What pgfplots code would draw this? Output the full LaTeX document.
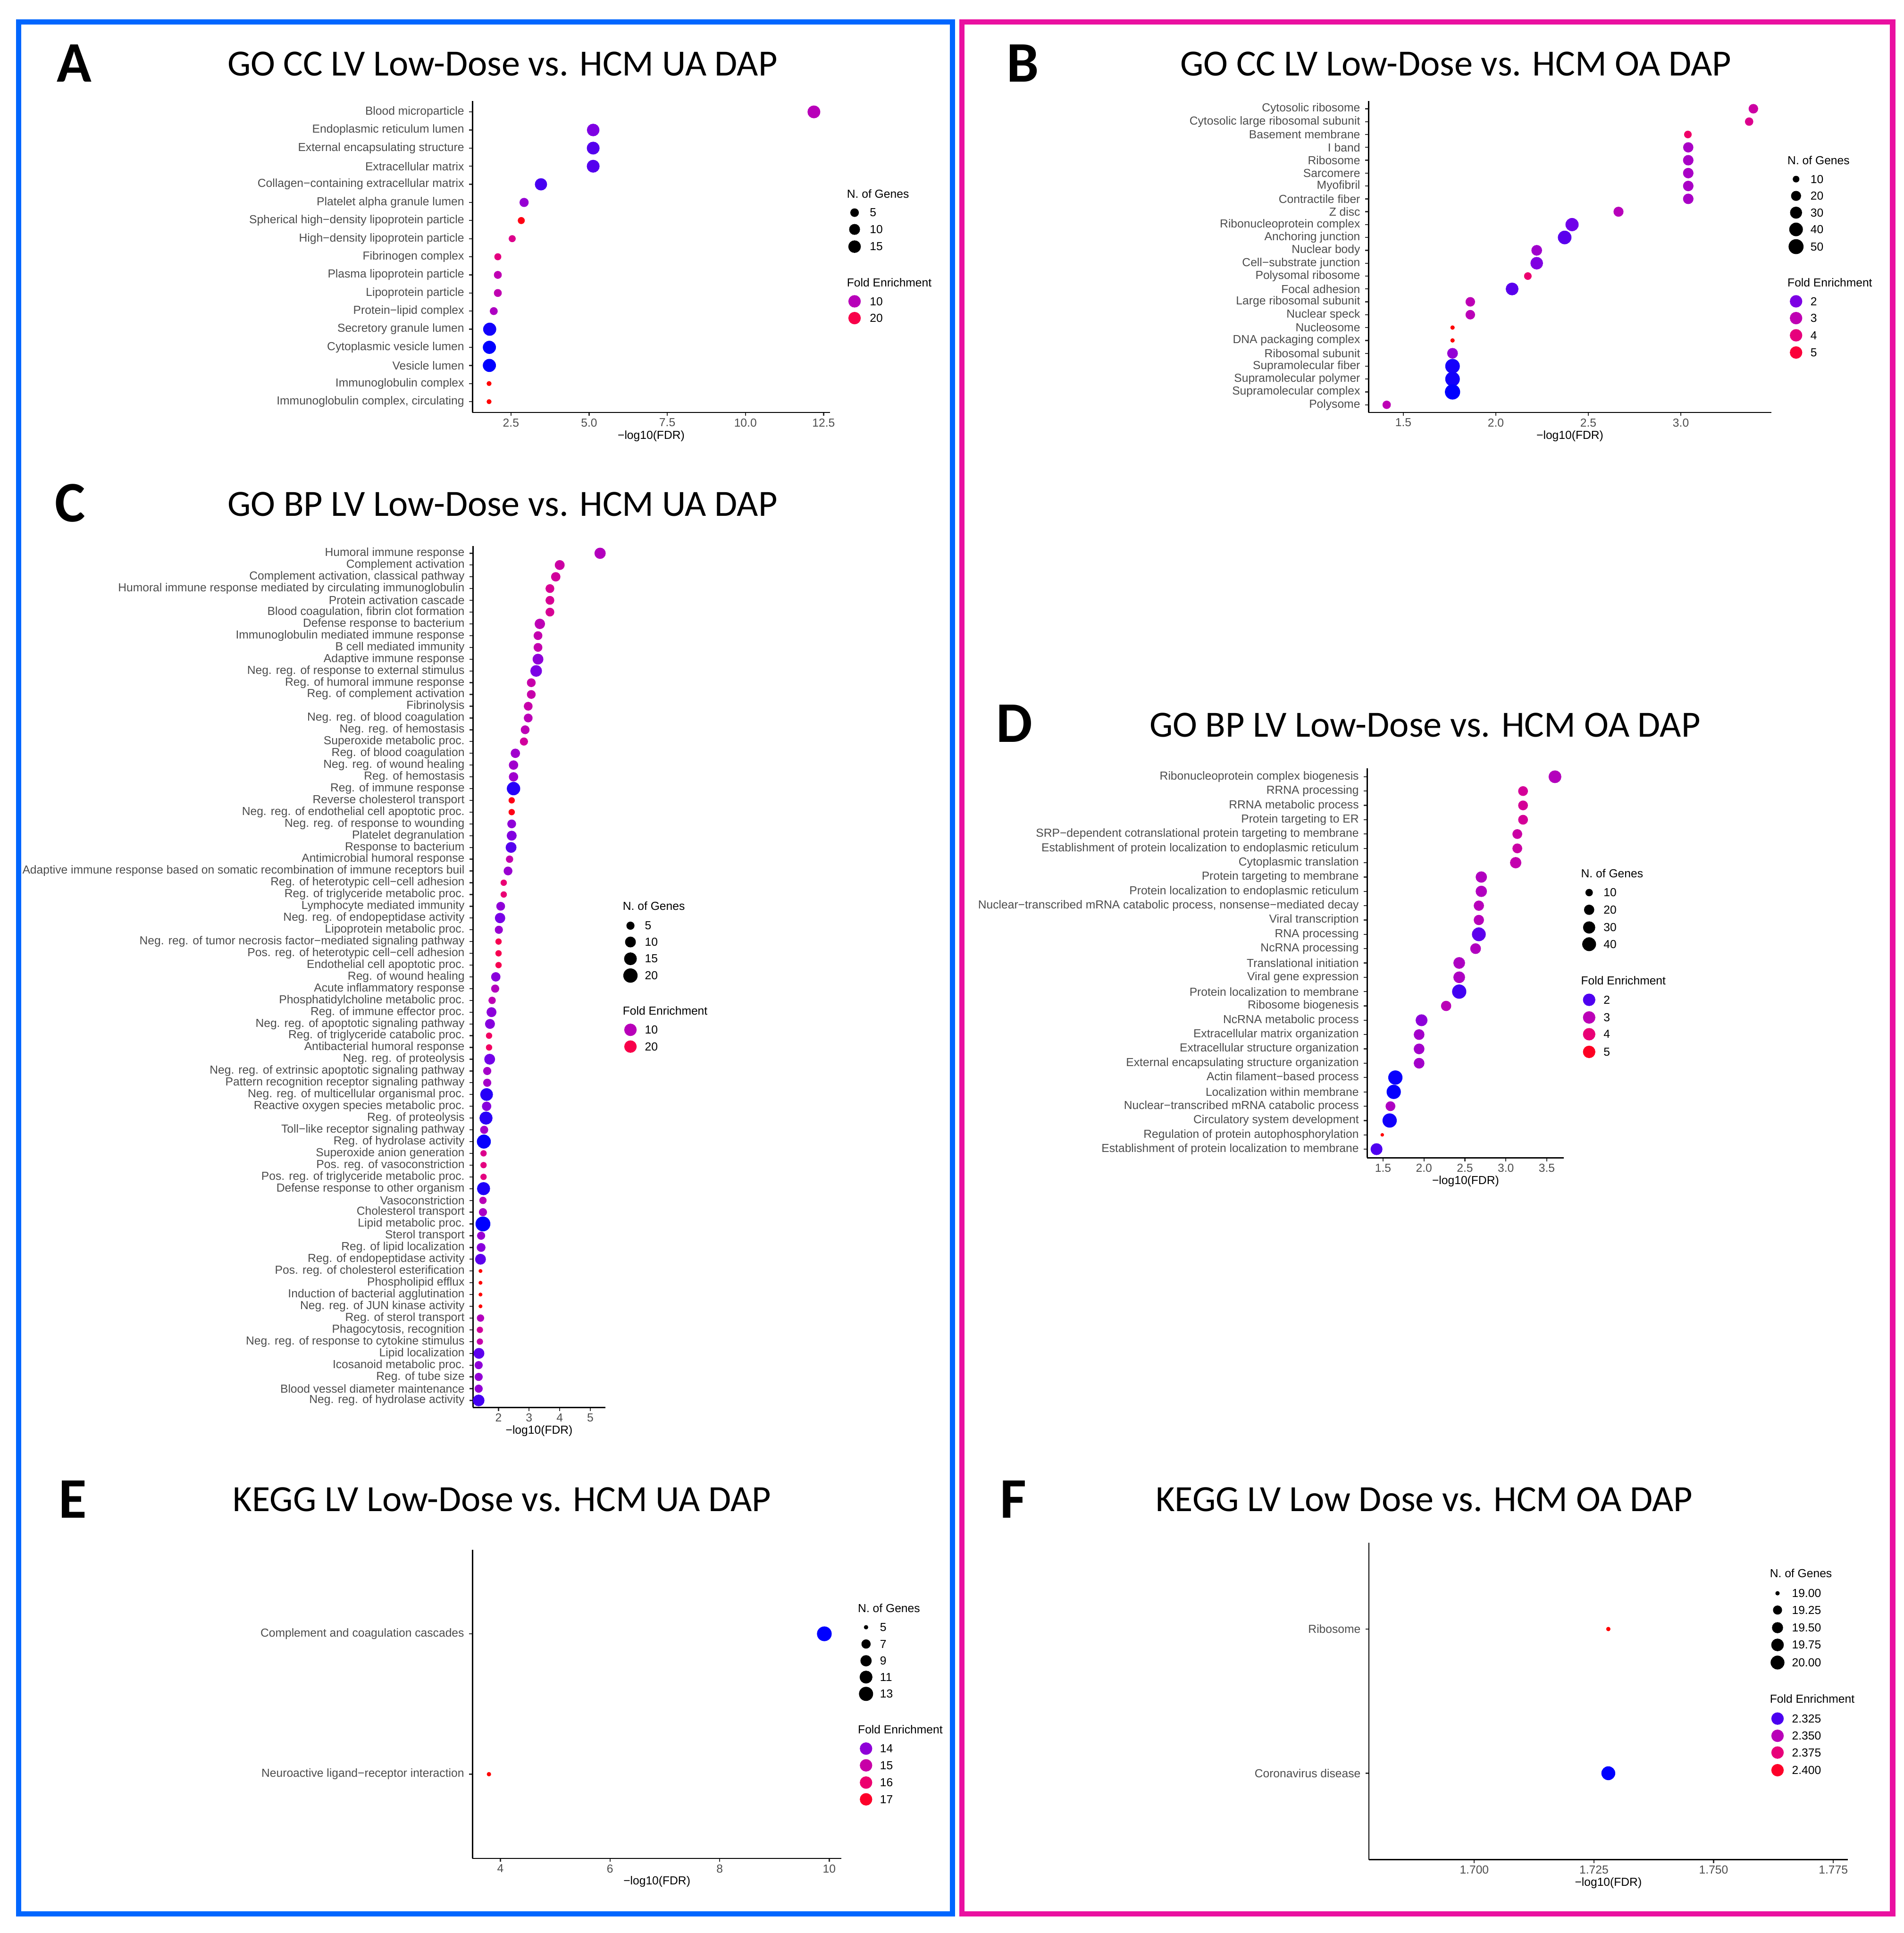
\documentclass[border=0pt]{standalone}
\usepackage{pgfplots}
\pgfplotsset{compat=1.18}
\usepackage{fontspec}
\setmainfont{Liberation Sans}
\newfontfamily\titlefont{Carlito}

\definecolor{grey30}{RGB}{77,77,77}
\definecolor{grey20}{RGB}{51,51,51}
\definecolor{frameblue}{RGB}{0,102,255}
\definecolor{framepink}{RGB}{234,16,160}

\newcommand{\ggfont}{\fontsize{7.5pt}{9pt}\selectfont}
\newcommand{\ttl}[1]{{\titlefont\fontsize{23.8pt}{28pt}\selectfont #1}}
\newcommand{\lett}[1]{{\titlefont\bfseries\fontsize{37pt}{44pt}\selectfont #1}}

\pgfplotsset{
  colormap={gg}{rgb255=(0,0,255) rgb255=(118,0,232) rgb255=(160,0,205) rgb255=(190,0,180)
    rgb255=(212,0,152) rgb255=(232,0,122) rgb255=(245,0,90) rgb255=(252,0,52) rgb255=(255,0,0)},
  dotplot/.style={
    scale only axis, anchor=south west, clip=false, enlargelimits=false,
    axis lines=left, axis line style={-, line width=0.8pt, black},
    tick align=outside, major tick length=2.2pt,
    tick style={line width=0.7pt, grey20},
    ticklabel style={font=\ggfont, text=grey30, inner sep=0pt},
    xticklabel shift=1.5pt, yticklabel shift=3pt,
    xlabel={−log10(FDR)},
    x label style={font=\ggfont, at={(axis description cs:0.5,0)}, anchor=center, yshift=-0.53cm},
    colormap name=gg,
  },
  bubbles/.style n args={3}{
    scatter, only marks, mark=*,
    point meta=\thisrow{fe},
    visualization depends on={\thisrow{n} \as \ngenes},
    scatter/use mapped color={draw=mapped color, fill=mapped color},
    scatter/@pre marker code/.append style={/tikz/mark size={#2pt+#3pt*sqrt(\ngenes-#1)}},
  },
  lk/.style={only marks, mark=*, black},
  fk/.style={scatter, only marks, mark=*, mark size=3.8pt, point meta=explicit,
    scatter/use mapped color={draw=mapped color, fill=mapped color}},
}
\tikzset{lt/.style={anchor=west, inner sep=0pt, font=\ggfont}}

\begin{document}
\begin{tikzpicture}
\useasboundingbox (0,0) rectangle (43.15cm,43.81cm);
\fill[white] (0,0) rectangle (43.15cm,43.81cm);
\draw[frameblue, line width=0.12cm] (0.42cm,43.31cm) rectangle (21.59cm,0.43cm);
\draw[framepink, line width=0.12cm] (21.80cm,43.31cm) rectangle (42.90cm,0.43cm);

% A: GO CC UA
\begin{axis}[dotplot, at={(10.71cm,34.46cm)}, width=8.10cm, height=7.06cm,
  xmin=1.27, xmax=12.70, ymin=-17.6, ymax=-0.4,
  xtick={2.5,5,7.5,10,12.5}, xticklabels={2.5,5.0,7.5,10.0,12.5},
  ytick={-1,-2,...,-17},
  yticklabels={Blood microparticle, Endoplasmic reticulum lumen, External encapsulating structure,
    Extracellular matrix, Collagen−containing extracellular matrix, Platelet alpha granule lumen,
    Spherical high−density lipoprotein particle, High−density lipoprotein particle, Fibrinogen complex,
    Plasma lipoprotein particle, Lipoprotein particle, Protein−lipid complex, Secretory granule lumen,
    Cytoplasmic vesicle lumen, Vesicle lumen, Immunoglobulin complex, {Immunoglobulin complex, circulating}},
  point meta min=2.2, point meta max=24.4]
\addplot[bubbles={2}{1.38}{0.683}] table[x=x, y expr=-\thisrow{y}] {
x y n fe
12.19 1 16 10.0
5.13 2 15 5.5
5.13 3 16 4.2
5.13 4 16 4.2
3.46 5 14 3.9
2.92 6 6 7.1
2.83 7 3 23.4
2.54 8 3 14.4
2.08 9 3 15.5
2.08 10 4 10.6
2.08 11 4 10.8
1.95 12 4 9.0
1.82 13 17 2.6
1.81 14 17 2.2
1.81 15 17 2.2
1.80 16 2 24.4
1.80 17 2 24.4
};
\end{axis}

% B: GO CC OA
\begin{axis}[dotplot, at={(31.02cm,34.46cm)}, width=9.13cm, height=7.06cm,
  xmin=1.312, xmax=3.489, ymin=-24.6, ymax=-0.4,
  xtick={1.5,2,2.5,3}, xticklabels={1.5,2.0,2.5,3.0},
  ytick={-1,-2,...,-24},
  yticklabels={Cytosolic ribosome, Cytosolic large ribosomal subunit, Basement membrane, I band, Ribosome,
    Sarcomere, Myofibril, Contractile fiber, Z disc, Ribonucleoprotein complex, Anchoring junction,
    Nuclear body, Cell−substrate junction, Polysomal ribosome, Focal adhesion, Large ribosomal subunit,
    Nuclear speck, Nucleosome, DNA packaging complex, Ribosomal subunit, Supramolecular fiber,
    Supramolecular polymer, Supramolecular complex, Polysome},
  point meta min=1.4, point meta max=5.6]
\addplot[bubbles={8}{1.19}{0.531}] table[x=x, y expr=-\thisrow{y}] {
x y n fe
3.392 1 18 3.3
3.369 2 14 3.7
3.038 3 12 4.3
3.04 4 21 2.6
3.04 5 22 2.6
3.04 6 22 2.6
3.04 7 22 2.6
3.04 8 22 2.6
2.663 9 20 2.85
2.412 10 37 1.9
2.372 11 40 1.8
2.221 12 23 2.45
2.221 13 33 2.05
2.173 14 12 4.2
2.088 15 34 1.8
1.862 16 18 2.95
1.862 17 18 2.9
1.766 18 8 5.6
1.766 19 8 5.6
1.766 20 23 2.3
1.766 21 47 1.5
1.766 22 47 1.48
1.766 23 52 1.4
1.41 24 14 2.95
};
\end{axis}

% C: GO BP UA
\begin{axis}[dotplot, at={(10.72cm,11.91cm)}, width=3.00cm, height=19.52cm,
  xmin=1.163, xmax=5.49, ymin=-73.6, ymax=-0.4,
  xtick={2,3,4,5}, xticklabels={2,3,4,5},
  ytick={-1,-2,...,-73},
  yticklabels={Humoral immune response, Complement activation, {Complement activation, classical pathway},
    Humoral immune response mediated by circulating immunoglobulin, Protein activation cascade,
    {Blood coagulation, fibrin clot formation}, Defense response to bacterium,
    Immunoglobulin mediated immune response, B cell mediated immunity, Adaptive immune response,
    Neg. reg. of response to external stimulus, Reg. of humoral immune response,
    Reg. of complement activation, Fibrinolysis, Neg. reg. of blood coagulation, Neg. reg. of hemostasis,
    Superoxide metabolic proc., Reg. of blood coagulation, Neg. reg. of wound healing, Reg. of hemostasis,
    Reg. of immune response, Reverse cholesterol transport, Neg. reg. of endothelial cell apoptotic proc.,
    Neg. reg. of response to wounding, Platelet degranulation, Response to bacterium,
    Antimicrobial humoral response,
    Adaptive immune response based on somatic recombination of immune receptors buil,
    Reg. of heterotypic cell−cell adhesion, Reg. of triglyceride metabolic proc.,
    Lymphocyte mediated immunity, Neg. reg. of endopeptidase activity, Lipoprotein metabolic proc.,
    Neg. reg. of tumor necrosis factor−mediated signaling pathway,
    Pos. reg. of heterotypic cell−cell adhesion, Endothelial cell apoptotic proc., Reg. of wound healing,
    Acute inflammatory response, Phosphatidylcholine metabolic proc., Reg. of immune effector proc.,
    Neg. reg. of apoptotic signaling pathway, Reg. of triglyceride catabolic proc.,
    Antibacterial humoral response, Neg. reg. of proteolysis,
    Neg. reg. of extrinsic apoptotic signaling pathway, Pattern recognition receptor signaling pathway,
    Neg. reg. of multicellular organismal proc., Reactive oxygen species metabolic proc.,
    Reg. of proteolysis, Toll−like receptor signaling pathway, Reg. of hydrolase activity,
    Superoxide anion generation, Pos. reg. of vasoconstriction, Pos. reg. of triglyceride metabolic proc.,
    Defense response to other organism, Vasoconstriction, Cholesterol transport, Lipid metabolic proc.,
    Sterol transport, Reg. of lipid localization, Reg. of endopeptidase activity,
    Pos. reg. of cholesterol esterification, Phospholipid efflux, Induction of bacterial agglutination,
    Neg. reg. of JUN kinase activity, Reg. of sterol transport, {Phagocytosis, recognition},
    Neg. reg. of response to cytokine stimulus, Lipid localization, Icosanoid metabolic proc.,
    Reg. of tube size, Blood vessel diameter maintenance, Neg. reg. of hydrolase activity},
  point meta min=2.2, point meta max=24.4]
\addplot[bubbles={2}{1.04}{0.794}] table[x=x, y expr=-\thisrow{y}] {
x y n fe
5.32 1 11 9.5
4.00 2 8 12.2
3.87 3 7 12.9
3.68 4 6 13.7
3.68 5 6 13.7
3.68 6 6 13.7
3.35 7 9 10.4
3.29 8 6 11.1
3.29 9 6 11.1
3.29 10 10 6.6
3.23 11 12 5.3
3.07 12 6 11.5
3.07 13 6 11.5
2.97 14 6 11.5
2.97 15 6 10.2
2.87 16 6 10.4
2.83 17 5 12.9
2.55 18 7 7.8
2.49 19 7 7.8
2.49 20 7 7.8
2.49 21 17 3.1
2.43 22 3 23.3
2.43 23 3 23.3
2.43 24 6 6.6
2.43 25 8 5.8
2.41 26 10 4.2
2.36 27 4 11.1
2.31 28 6 7.3
2.17 29 3 16.6
2.17 30 3 16.6
2.07 31 6 6.6
2.05 32 9 5.1
2.01 33 5 7.3
2.00 34 3 19.5
2.00 35 3 19.5
2.00 36 3 19.5
1.91 37 7 6.2
1.89 38 5 9.5
1.79 39 4 10.4
1.77 40 8 6.4
1.72 41 8 6.0
1.69 42 3 18.2
1.69 43 3 18.2
1.71 44 10 4.9
1.63 45 5 8.2
1.63 46 5 8.2
1.61 47 15 3.1
1.61 48 7 6.2
1.59 49 16 3.2
1.53 50 5 8.2
1.52 51 19 2.4
1.51 52 3 14.4
1.51 53 3 15.5
1.51 54 3 15.5
1.51 55 16 2.9
1.49 56 4 10.2
1.49 57 5 8.6
1.49 58 22 2.2
1.43 59 5 7.3
1.43 60 6 6.2
1.41 61 10 4.4
1.41 62 2 24.4
1.41 63 2 24.4
1.41 64 2 24.4
1.41 65 2 24.4
1.41 66 4 9.5
1.39 67 3 12.9
1.39 68 3 11.5
1.36 69 10 4.4
1.35 70 5 6.6
1.35 71 5 6.9
1.35 72 5 6.9
1.35 73 12 3.8
};
\end{axis}

% D: GO BP OA
\begin{axis}[dotplot, at={(30.99cm,17.57cm)}, width=4.46cm, height=8.83cm,
  xmin=1.306, xmax=3.71, ymin=-27.6, ymax=-0.4,
  xtick={1.5,2,2.5,3,3.5}, xticklabels={1.5,2.0,2.5,3.0,3.5},
  ytick={-1,-2,...,-27},
  yticklabels={Ribonucleoprotein complex biogenesis, RRNA processing, RRNA metabolic process,
    Protein targeting to ER, SRP−dependent cotranslational protein targeting to membrane,
    Establishment of protein localization to endoplasmic reticulum, Cytoplasmic translation,
    Protein targeting to membrane, Protein localization to endoplasmic reticulum,
    {Nuclear−transcribed mRNA catabolic process, nonsense−mediated decay}, Viral transcription,
    RNA processing, NcRNA processing, Translational initiation, Viral gene expression,
    Protein localization to membrane, Ribosome biogenesis, NcRNA metabolic process,
    Extracellular matrix organization, Extracellular structure organization,
    External encapsulating structure organization, Actin filament−based process,
    Localization within membrane, Nuclear−transcribed mRNA catabolic process,
    Circulatory system development, Regulation of protein autophosphorylation,
    Establishment of protein localization to membrane},
  point meta min=1.7, point meta max=5.3]
\addplot[bubbles={5}{0.925}{0.563}] table[x=x, y expr=-\thisrow{y}] {
x y n fe
3.60 1 33 2.9
3.21 2 18 3.5
3.21 3 18 3.5
3.21 4 18 3.5
3.14 5 18 3.3
3.14 6 18 3.3
3.12 7 25 3.15
2.70 8 25 2.85
2.70 9 25 2.85
2.67 10 20 2.95
2.67 11 20 2.95
2.67 12 40 2.05
2.63 13 22 2.85
2.43 14 27 2.8
2.43 15 27 2.8
2.43 16 43 1.95
2.27 17 20 3.0
1.97 18 28 2.4
1.94 19 22 2.65
1.94 20 22 2.65
1.94 21 22 2.65
1.65 22 43 1.74
1.63 23 43 1.72
1.59 24 18 2.8
1.58 25 43 1.77
1.49 26 5 5.3
1.42 27 28 2.0
};
\end{axis}

% E: KEGG UA
\begin{axis}[dotplot, at={(10.71cm,1.69cm)}, width=8.36cm, height=7.00cm,
  xmin=3.49, xmax=10.22, ymin=-2.6, ymax=-0.4,
  xtick={4,6,8,10}, xticklabels={4,6,8,10},
  ytick={-1,-2},
  yticklabels={Complement and coagulation cascades, Neuroactive ligand−receptor interaction},
  point meta min=13.14, point meta max=17.43]
\addplot[bubbles={5}{1.19}{1.12}] table[x=x, y expr=-\thisrow{y}] {
x y n fe
9.91 1 14 13.14
3.79 2 5 17.43
};
\end{axis}

% F: KEGG OA
\begin{axis}[dotplot, at={(31.03cm,1.66cm)}, width=10.85cm, height=7.19cm,
  xmin=1.678, xmax=1.778, ymin=-2.6, ymax=-0.4,
  xtick={1.7,1.725,1.75,1.775}, xticklabels={1.700,1.725,1.750,1.775},
  ytick={-1,-2},
  yticklabels={Ribosome, Coronavirus disease},
  point meta min=2.3177, point meta max=2.409]
\addplot[bubbles={19}{1.19}{3.08}] table[x=x, y expr=-\thisrow{y}] {
x y n fe
1.728 1 19 2.409
1.728 2 20 2.3177
};
\end{axis}

% overlay in pixel units: titles, letters, legends
\begin{axis}[at={(0,0)}, anchor=south west, scale only axis, width=43.15cm, height=43.81cm,
  xmin=0, xmax=4315, ymin=0, ymax=4381, y dir=reverse, hide axis, clip=false,
  colormap name=gg, point meta min=0, point meta max=1]
\node[anchor=base west, inner sep=0pt] at (axis cs:128,186) {\lett{A}};
\node[anchor=base west, inner sep=0pt] at (axis cs:2281,186) {\lett{B}};
\node[anchor=base west, inner sep=0pt] at (axis cs:124,1182) {\lett{C}};
\node[anchor=base west, inner sep=0pt] at (axis cs:2258,1682) {\lett{D}};
\node[anchor=base west, inner sep=0pt] at (axis cs:132,3440) {\lett{E}};
\node[anchor=base west, inner sep=0pt] at (axis cs:2266,3440) {\lett{F}};
\node[anchor=base, inner sep=0pt] at (axis cs:1139,172) {\ttl{GO CC LV Low-Dose vs. HCM UA DAP}};
\node[anchor=base, inner sep=0pt] at (axis cs:3300,172) {\ttl{GO CC LV Low-Dose vs. HCM OA DAP}};
\node[anchor=base, inner sep=0pt] at (axis cs:1139,1170) {\ttl{GO BP LV Low-Dose vs. HCM UA DAP}};
\node[anchor=base, inner sep=0pt] at (axis cs:3230,1670) {\ttl{GO BP LV Low-Dose vs. HCM OA DAP}};
\node[anchor=base, inner sep=0pt] at (axis cs:1138,3425) {\ttl{KEGG LV Low-Dose vs. HCM UA DAP}};
\node[anchor=base, inner sep=0pt] at (axis cs:3228,3425) {\ttl{KEGG LV Low Dose vs. HCM OA DAP}};

% legend A
\node[lt] at (axis cs:1919,439) {N. of Genes};
\addplot[lk, mark size={1.38pt+0.683pt*sqrt(3)}] coordinates {(1937,482)};
\addplot[lk, mark size={1.38pt+0.683pt*sqrt(8)}] coordinates {(1937,520)};
\addplot[lk, mark size={1.38pt+0.683pt*sqrt(13)}] coordinates {(1937,559)};
\node[lt] at (axis cs:1971,482) {5};
\node[lt] at (axis cs:1971,520) {10};
\node[lt] at (axis cs:1971,559) {15};
\node[lt] at (axis cs:1919,640) {Fold Enrichment};
\addplot[fk] coordinates {(1937,683) [0.351] (1937,721) [0.802]};
\node[lt] at (axis cs:1971,683) {10};
\node[lt] at (axis cs:1971,721) {20};

% legend B
\node[lt] at (axis cs:4051,363) {N. of Genes};
\addplot[lk, mark size={1.19pt+0.531pt*sqrt(2)}] coordinates {(4071,406)};
\addplot[lk, mark size={1.19pt+0.531pt*sqrt(12)}] coordinates {(4071,444)};
\addplot[lk, mark size={1.19pt+0.531pt*sqrt(22)}] coordinates {(4071,482)};
\addplot[lk, mark size={1.19pt+0.531pt*sqrt(32)}] coordinates {(4071,520)};
\addplot[lk, mark size={1.19pt+0.531pt*sqrt(42)}] coordinates {(4071,559)};
\node[lt] at (axis cs:4103,406) {10};
\node[lt] at (axis cs:4103,444) {20};
\node[lt] at (axis cs:4103,482) {30};
\node[lt] at (axis cs:4103,520) {40};
\node[lt] at (axis cs:4103,559) {50};
\node[lt] at (axis cs:4051,640) {Fold Enrichment};
\addplot[fk] coordinates {(4071,683) [0.143] (4071,721) [0.381] (4071,760) [0.619] (4071,799) [0.857]};
\node[lt] at (axis cs:4103,683) {2};
\node[lt] at (axis cs:4103,721) {3};
\node[lt] at (axis cs:4103,760) {4};
\node[lt] at (axis cs:4103,799) {5};

% legend C
\node[lt] at (axis cs:1411,2053) {N. of Genes};
\addplot[lk, mark size={1.04pt+0.794pt*sqrt(3)}] coordinates {(1429,2098)};
\addplot[lk, mark size={1.04pt+0.794pt*sqrt(8)}] coordinates {(1429,2135)};
\addplot[lk, mark size={1.04pt+0.794pt*sqrt(13)}] coordinates {(1429,2173)};
\addplot[lk, mark size={1.04pt+0.794pt*sqrt(18)}] coordinates {(1429,2211)};
\node[lt] at (axis cs:1461,2098) {5};
\node[lt] at (axis cs:1461,2135) {10};
\node[lt] at (axis cs:1461,2173) {15};
\node[lt] at (axis cs:1461,2211) {20};
\node[lt] at (axis cs:1411,2291) {Fold Enrichment};
\addplot[fk] coordinates {(1429,2334) [0.351] (1429,2372) [0.802]};
\node[lt] at (axis cs:1461,2334) {10};
\node[lt] at (axis cs:1461,2372) {20};

% legend D
\node[lt] at (axis cs:3583,1979) {N. of Genes};
\addplot[lk, mark size={0.925pt+0.563pt*sqrt(5)}] coordinates {(3602,2023)};
\addplot[lk, mark size={0.925pt+0.563pt*sqrt(15)}] coordinates {(3602,2062)};
\addplot[lk, mark size={0.925pt+0.563pt*sqrt(25)}] coordinates {(3602,2102)};
\addplot[lk, mark size={0.925pt+0.563pt*sqrt(35)}] coordinates {(3602,2140)};
\node[lt] at (axis cs:3634,2023) {10};
\node[lt] at (axis cs:3634,2062) {20};
\node[lt] at (axis cs:3634,2102) {30};
\node[lt] at (axis cs:3634,2140) {40};
\node[lt] at (axis cs:3583,2222) {Fold Enrichment};
\addplot[fk] coordinates {(3602,2266) [0.083] (3602,2306) [0.361] (3602,2344) [0.639] (3602,2384) [0.917]};
\node[lt] at (axis cs:3634,2266) {2};
\node[lt] at (axis cs:3634,2306) {3};
\node[lt] at (axis cs:3634,2344) {4};
\node[lt] at (axis cs:3634,2384) {5};

% legend E
\node[lt] at (axis cs:1944,3645) {N. of Genes};
\addplot[lk, mark size={1.19pt}] coordinates {(1963,3688)};
\addplot[lk, mark size={1.19pt+1.12pt*sqrt(2)}] coordinates {(1963,3726)};
\addplot[lk, mark size={1.19pt+1.12pt*sqrt(4)}] coordinates {(1963,3764)};
\addplot[lk, mark size={1.19pt+1.12pt*sqrt(6)}] coordinates {(1963,3801)};
\addplot[lk, mark size={1.19pt+1.12pt*sqrt(8)}] coordinates {(1963,3839)};
\node[lt] at (axis cs:1994,3688) {5};
\node[lt] at (axis cs:1994,3726) {7};
\node[lt] at (axis cs:1994,3764) {9};
\node[lt] at (axis cs:1994,3801) {11};
\node[lt] at (axis cs:1994,3839) {13};
\node[lt] at (axis cs:1944,3920) {Fold Enrichment};
\addplot[fk] coordinates {(1963,3963) [0.2] (1963,4001) [0.434] (1963,4040) [0.667] (1963,4078) [0.9]};
\node[lt] at (axis cs:1994,3963) {14};
\node[lt] at (axis cs:1994,4001) {15};
\node[lt] at (axis cs:1994,4040) {16};
\node[lt] at (axis cs:1994,4078) {17};

% legend F
\node[lt] at (axis cs:4011,3566) {N. of Genes};
\addplot[lk, mark size={1.19pt}] coordinates {(4029,3611)};
\addplot[lk, mark size={1.19pt+3.08pt*sqrt(0.25)}] coordinates {(4029,3649)};
\addplot[lk, mark size={1.19pt+3.08pt*sqrt(0.5)}] coordinates {(4029,3689)};
\addplot[lk, mark size={1.19pt+3.08pt*sqrt(0.75)}] coordinates {(4029,3728)};
\addplot[lk, mark size={1.19pt+3.08pt}] coordinates {(4029,3768)};
\node[lt] at (axis cs:4061,3611) {19.00};
\node[lt] at (axis cs:4061,3649) {19.25};
\node[lt] at (axis cs:4061,3689) {19.50};
\node[lt] at (axis cs:4061,3728) {19.75};
\node[lt] at (axis cs:4061,3768) {20.00};
\node[lt] at (axis cs:4011,3850) {Fold Enrichment};
\addplot[fk] coordinates {(4029,3895) [0.080] (4029,3934) [0.354] (4029,3972) [0.627] (4029,4012) [0.901]};
\node[lt] at (axis cs:4061,3895) {2.325};
\node[lt] at (axis cs:4061,3934) {2.350};
\node[lt] at (axis cs:4061,3972) {2.375};
\node[lt] at (axis cs:4061,4012) {2.400};
\end{axis}
\end{tikzpicture}
\end{document}
